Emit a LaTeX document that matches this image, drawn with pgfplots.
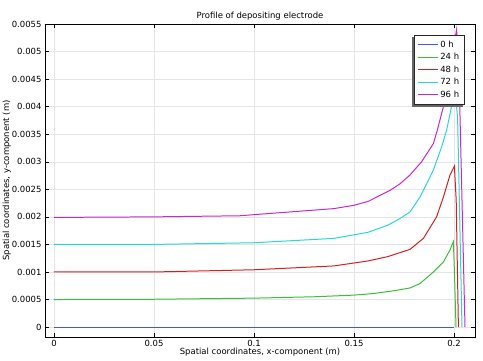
\documentclass[border=0pt]{standalone}
\usepackage{fontspec}
\setmainfont{DejaVu Sans}
\usepackage{pgfplots}
\pgfplotsset{compat=1.18}
\definecolor{cBlue}{RGB}{60,90,230}
\definecolor{cGreen}{RGB}{60,190,60}
\definecolor{cRed}{RGB}{215,30,30}
\definecolor{cCyan}{RGB}{40,215,215}
\definecolor{cMag}{RGB}{200,40,200}
\begin{document}
\begin{tikzpicture}
\useasboundingbox (-45bp,-24bp) rectangle (438bp,337bp);
\begin{axis}[
  at={(0,0)}, anchor=south west,
  scale only axis, width=430bp, height=313bp,
  xmin=-0.0045, xmax=0.2105,
  ymin=-0.00018, ymax=0.0055,
  xtick={0,0.05,0.1,0.15,0.2},
  ytick={0,0.0005,0.001,0.0015,0.002,0.0025,0.003,0.0035,0.004,0.0045,0.005,0.0055},
  scaled x ticks=false, scaled y ticks=false,
  xticklabel style={/pgf/number format/fixed, /pgf/number format/precision=4},
  yticklabel style={/pgf/number format/fixed, /pgf/number format/precision=4},
  /pgf/number format/assume math mode=true,
  tick label style={font=\fontsize{8.5}{9}\selectfont},
  label style={font=\fontsize{8.5}{9}\selectfont},
  title style={font=\fontsize{8.5}{9}\selectfont, yshift=-6bp},
  title={Profile of depositing electrode},
  xlabel={Spatial coordinates, x-component (m)},
  ylabel={Spatial coordinates, y-component (m)},
  xlabel style={yshift=6bp},
  ylabel style={yshift=-6bp},
  grid=major, major grid style={black!10, line width=0.5pt},
  tick align=inside, major tick length=4bp,
  axis line style={black, line width=0.7pt},
  tick style={black, line width=0.5pt},
  xtick pos=both, ytick pos=both,
  xticklabel pos=lower, yticklabel pos=left,
  legend style={name=leg, at={(rel axis cs:1,1)}, anchor=north east, xshift=-10bp, yshift=-11bp,
    font=\fontsize{8.5}{9}\selectfont, draw=black!85, line width=0.7pt, fill=white,
    row sep=0.6pt, inner sep=3.5pt},
  legend cell align=left,
  legend image code/.code={\draw[#1, line width=1pt] (0bp,0bp) -- (20bp,0bp);},
  every axis plot/.append style={line width=1pt},
]
\addplot[draw=cBlue] coordinates {(0,0) (0.1,0) (0.2,0)};
\addlegendentry{0 h}
\addplot[draw=cGreen] coordinates {
(0,0.0005) (0.05,0.000505) (0.1,0.000525) (0.13,0.00055) (0.15,0.00058) (0.16,0.00061)
(0.17,0.00066) (0.178,0.00071) (0.183,0.00079) (0.1897,0.00100) (0.1947,0.00118)
(0.198,0.00140) (0.1997,0.00155) (0.2003,0.00090) (0.201,0)};
\addlegendentry{24 h}
\addplot[draw=cRed] coordinates {
(0,0.001) (0.05,0.001) (0.1,0.00104) (0.14,0.00111) (0.157,0.00120) (0.167,0.00128)
(0.178,0.00141) (0.1847,0.00161) (0.1913,0.00200) (0.1947,0.00236) (0.198,0.00276)
(0.2002,0.00292) (0.2011,0.00230) (0.2022,0)};
\addlegendentry{48 h}
\addplot[draw=cCyan] coordinates {
(0,0.0015) (0.05,0.0015) (0.1,0.00153) (0.14,0.00161) (0.157,0.00172) (0.167,0.00185)
(0.173,0.00197) (0.178,0.00209) (0.183,0.00236) (0.1897,0.00285) (0.1938,0.00327)
(0.1963,0.00357) (0.1989,0.00403) (0.2005,0.00430) (0.2018,0.00380) (0.204,0)};
\addlegendentry{72 h}
\addplot[draw=cMag] coordinates {
(0,0.00199) (0.05,0.0020) (0.093,0.00202) (0.1,0.00204) (0.14,0.00215) (0.15,0.00221)
(0.157,0.00228) (0.168,0.00248) (0.173,0.00260) (0.178,0.00276) (0.1838,0.00300)
(0.1897,0.00333) (0.1917,0.00358) (0.1947,0.00400) (0.198,0.00470) (0.2013,0.00540)
(0.2025,0.00460) (0.2055,0)};
\addlegendentry{96 h}
\end{axis}
\fill[black!60] ([xshift=-2bp,yshift=-2bp]leg.south west) rectangle ([yshift=-2bp]leg.north west);
\fill[black!60] ([xshift=-2bp,yshift=-2bp]leg.south west) rectangle ([xshift=-2bp]leg.south east);
\end{tikzpicture}
\end{document}
